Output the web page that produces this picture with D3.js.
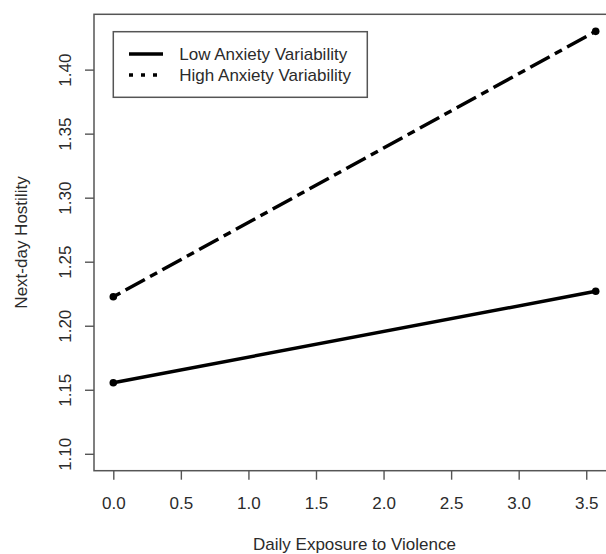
<!DOCTYPE html>
<html>
<head>
<meta charset="utf-8">
<script src="https://cdn.jsdelivr.net/npm/d3@7.9.0/dist/d3.min.js"></script>
<style>
  body { margin: 0; background: #fff; }
  svg { display: block; font-family: "Liberation Sans", Arial, sans-serif; }
  .tick text { font-size: 17px; fill: #2b2b2b; }
  .tick line { stroke: #555; stroke-width: 1.4px; }
</style>
</head>
<body>
<svg id="chart" width="606" height="554"></svg>
<script>
// values
const exposure = [0, 3.57];
const lowAnxiety = [1.1555, 1.2269];
const highAnxiety = [1.2226, 1.4299];
const seriesNames = ["Low Anxiety Variability", "High Anxiety Variability"];
const xTicks = [0, 0.5, 1, 1.5, 2, 2.5, 3, 3.5];
const yTicks = [1.10, 1.15, 1.20, 1.25, 1.30, 1.35, 1.40];
const yLimits = [1.10, 1.43];

const svg = d3.select("#chart");
const plot = { left: 94, right: 615, top: 14.3, bottom: 470.7 };

// R style 4% padding on both axes
function pad(lim) {
    const d = (lim[1] - lim[0]) * 0.04;
    return [lim[0] - d, lim[1] + d];
}

const x = d3.scaleLinear().domain(pad(d3.extent(exposure))).range([plot.left, plot.right]);
const y = d3.scaleLinear().domain(pad(yLimits)).range([plot.bottom, plot.top]);

// axes
const xAxis = svg.append("g")
    .attr("transform", `translate(0,${plot.bottom})`)
    .call(d3.axisBottom(x).tickValues(xTicks).tickFormat(d3.format(".1f"))
        .tickSize(9).tickPadding(17.5));
xAxis.select(".domain").remove();

const yAxis = svg.append("g")
    .attr("transform", `translate(${plot.left},0)`)
    .call(d3.axisLeft(y).tickValues(yTicks).tickFormat(d3.format(".2f")).tickSize(9));
yAxis.select(".domain").remove();
yAxis.selectAll(".tick text")
    .attr("x", null).attr("dy", null)
    .attr("text-anchor", "middle")
    .attr("transform", "translate(-23,0) rotate(-90)");
svg.selectAll(".tick text").attr("font-family", null).attr("font-size", null);

// plot box
svg.append("rect")
    .attr("x", plot.left).attr("y", plot.top)
    .attr("width", plot.right - plot.left).attr("height", plot.bottom - plot.top)
    .attr("fill", "none").attr("stroke", "#555").attr("stroke-width", 1.5);

// axis titles
svg.append("text")
    .attr("x", (plot.left + plot.right) / 2).attr("y", 550)
    .attr("text-anchor", "middle").attr("font-size", 17).attr("fill", "#2b2b2b")
    .text("Daily Exposure to Violence");

svg.append("text")
    .attr("transform", `translate(27,${(plot.top + plot.bottom) / 2}) rotate(-90)`)
    .attr("text-anchor", "middle").attr("font-size", 17).attr("fill", "#2b2b2b")
    .text("Next-day Hostility");

// lines + end points
const series = [
    { name: seriesNames[0], values: lowAnxiety, dash: null },
    { name: seriesNames[1], values: highAnxiety, dash: "8,6,22,6" }
];
const line = d3.line().x((d, i) => x(exposure[i])).y(d => y(d));

series.forEach(s => {
    svg.append("path")
        .attr("d", line(s.values))
        .attr("fill", "none").attr("stroke", "#000").attr("stroke-width", 3.5)
        .attr("stroke-dasharray", s.dash);
    svg.selectAll(null).data(s.values).enter().append("circle")
        .attr("cx", (d, i) => x(exposure[i])).attr("cy", d => y(d))
        .attr("r", 3.8).attr("fill", "#000");
});

// legend
const legend = svg.append("g");
legend.append("rect")
    .attr("x", 113.3).attr("y", 31.7).attr("width", 254).attr("height", 65.6)
    .attr("fill", "#fff").attr("stroke", "#555").attr("stroke-width", 1.5);
const legendDash = [null, "4,8"];
seriesNames.forEach((name, i) => {
    const ly = 54 + i * 21;
    legend.append("line")
        .attr("x1", 129).attr("x2", 163).attr("y1", ly).attr("y2", ly)
        .attr("stroke", "#000").attr("stroke-width", 3.5)
        .attr("stroke-dasharray", legendDash[i]);
    legend.append("text")
        .attr("x", 179.3).attr("y", ly + 6.2)
        .attr("font-size", 17).attr("fill", "#2b2b2b")
        .text(name);
});
</script>
</body>
</html>
